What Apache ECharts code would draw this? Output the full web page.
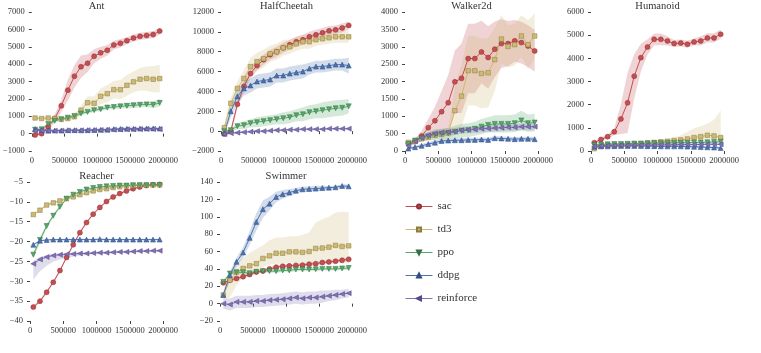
<!DOCTYPE html>
<html>
<head>
<meta charset="utf-8">
<script src="https://cdn.jsdelivr.net/npm/echarts@6/dist/echarts.min.js"></script>
<style>
  html, body { margin: 0; padding: 0; background: #fff; }
  #chart { width: 761px; height: 353px; }
</style>
</head>
<body>
<div id="chart"></div>
<script>
// training steps (x) shared by every panel
const STEPS = [50000, 150000, 250000, 350000, 450000, 550000, 650000, 750000, 850000, 950000,
  1050000, 1150000, 1250000, 1350000, 1450000, 1550000, 1650000, 1750000, 1850000, 1950000]
const X_TICKS = [0, 500000, 1000000, 1500000, 2000000]
const ALGOS = ['sac', 'td3', 'ppo', 'ddpg', 'reinforce']
const ENVS = ['Ant', 'HalfCheetah', 'Walker2d', 'Humanoid', 'Reacher', 'Swimmer']

// mean returns per algorithm
const antMean = {
  sac: [-80, 0, 400, 870, 1600, 2500, 3300, 3850, 4050, 4450, 4650, 4800, 5100, 5200, 5350, 5500, 5600, 5650, 5700, 5900],
  td3: [900, 870, 900, 870, 820, 870, 970, 1350, 1780, 1750, 2150, 2300, 2530, 2530, 2780, 2980, 3130, 3170, 3130, 3170],
  ppo: [230, 250, 550, 740, 830, 920, 1020, 1160, 1250, 1350, 1400, 1500, 1530, 1570, 1600, 1630, 1660, 1680, 1660, 1770],
  ddpg: [250, 200, 170, 180, 180, 200, 200, 190, 200, 210, 220, 230, 260, 270, 280, 280, 290, 300, 300, 290],
  reinforce: [150, 180, 170, 160, 170, 180, 180, 190, 200, 200, 210, 220, 230, 240, 250, 250, 260, 270, 270, 260]
}
const cheetahMean = {
  sac: [-300, 0, 2700, 4500, 5800, 6600, 7200, 7700, 8000, 8400, 8700, 9000, 9200, 9500, 9700, 9900, 10100, 10200, 10400, 10650],
  td3: [350, 2800, 4300, 5300, 6500, 7000, 7300, 7800, 8000, 8400, 8500, 8800, 9000, 9000, 9200, 9300, 9400, 9500, 9500, 9500],
  ppo: [0, 100, 500, 600, 800, 900, 1000, 1100, 1200, 1300, 1400, 1600, 1700, 1900, 2000, 2100, 2200, 2300, 2350, 2500],
  ddpg: [-200, 2000, 3500, 4300, 4600, 5000, 5100, 5200, 5600, 5600, 5800, 5900, 6000, 6300, 6500, 6500, 6600, 6700, 6700, 6600],
  reinforce: [-300, -200, -150, -100, -50, 0, 0, 50, 100, 100, 150, 150, 200, 200, 200, 200, 250, 250, 250, 250]
}
const walkerMean = {
  sac: [220, 270, 430, 670, 870, 1130, 1390, 1990, 2090, 2660, 2660, 2850, 2690, 2930, 3090, 3090, 3170, 3120, 3020, 2880],
  td3: [250, 280, 350, 400, 450, 480, 520, 1160, 1580, 2310, 2310, 2230, 2250, 2630, 3220, 3010, 3060, 3310, 3060, 3310],
  ppo: [200, 300, 370, 420, 470, 490, 510, 550, 580, 600, 640, 700, 750, 780, 780, 780, 800, 880, 800, 820],
  ddpg: [70, 110, 150, 200, 240, 290, 300, 310, 310, 320, 320, 330, 320, 370, 360, 350, 340, 350, 350, 340],
  reinforce: [150, 280, 380, 450, 500, 530, 550, 560, 600, 610, 620, 640, 650, 660, 670, 680, 680, 700, 700, 700]
}
const humanoidMean = {
  sac: [360, 500, 620, 830, 1380, 2080, 3230, 4030, 4490, 4820, 4820, 4750, 4640, 4660, 4610, 4710, 4750, 4880, 4880, 5040],
  td3: [100, 200, 250, 250, 260, 280, 300, 320, 350, 370, 400, 420, 450, 480, 520, 580, 620, 680, 650, 580],
  ppo: [250, 280, 290, 300, 300, 310, 320, 320, 330, 340, 340, 350, 350, 360, 360, 370, 370, 380, 390, 400],
  ddpg: [180, 200, 200, 210, 220, 220, 220, 220, 210, 210, 200, 200, 200, 200, 190, 180, 170, 160, 150, 130],
  reinforce: [200, 230, 240, 250, 250, 250, 260, 260, 260, 260, 270, 270, 270, 280, 280, 280, 280, 290, 290, 290]
}
const reacherMean = {
  sac: [-36.5, -35, -32.75, -30.25, -27.3, -24, -20.8, -17.75, -15.2, -13.1, -11.4, -9.9, -8.75, -7.9, -7.25, -6.7, -6.25, -5.9, -5.7, -5.6],
  td3: [-13.2, -12.1, -10.8, -10.25, -9.75, -9.2, -8.75, -8.2, -7.7, -7.25, -6.9, -6.7, -6.4, -6.2, -6, -5.9, -5.8, -5.8, -5.75, -5.75],
  ppo: [-23.3, -19.6, -16.1, -13.5, -11.25, -9.2, -8.2, -7.5, -6.9, -6.5, -6.25, -6.1, -6, -5.9, -5.9, -5.8, -5.8, -5.8, -5.8, -5.8],
  ddpg: [-20.8, -19.8, -19.6, -19.5, -19.5, -19.5, -19.5, -19.5, -19.5, -19.5, -19.4, -19.5, -19.5, -19.5, -19.5, -19.5, -19.5, -19.5, -19.5, -19.5],
  reinforce: [-25.6, -24.5, -23.9, -23.5, -23.3, -23.2, -23.1, -23, -23, -22.9, -22.8, -22.8, -22.7, -22.6, -22.6, -22.5, -22.4, -22.4, -22.3, -22.3]
}
const swimmerMean = {
  sac: [24, 27, 29, 31, 33.5, 36.5, 37.5, 40, 42, 43, 43.5, 44, 44.3, 45.4, 46, 47.3, 48, 48.8, 50, 51],
  td3: [10, 27, 36, 40.5, 43.5, 46, 52, 55, 58, 58, 59.6, 59.6, 59, 60, 63.5, 64, 65, 67, 65.8, 66.5],
  ppo: [25, 34.6, 36, 36, 35, 36.6, 37.4, 37.4, 37.4, 38.2, 38.2, 39.3, 39.3, 39.3, 39.5, 40, 40, 40, 40.5, 41],
  ddpg: [9.9, 32.8, 48.1, 58.9, 75.7, 94.1, 108.6, 115.1, 122.8, 125.9, 127.8, 130, 131.6, 132, 132.4, 133, 133.5, 133.9, 135.4, 135],
  reinforce: [0, -1, 2, 2, 2, 3, 3, 4, 4.5, 5, 6, 7, 6, 7, 7, 8, 9, 10, 11, 12]
}

// shaded spread: one array = symmetric, two arrays = [below, above]
const antBand = {
  sac: [80, 80, 150, 250, 350, 600, 650, 650, 500, 400, 350, 300, 250, 250, 200, 200, 200, 200, 200, 200],
  td3: [50, 50, 50, 50, 80, 100, 150, 250, 350, 400, 450, 500, 500, 550, 600, 600, 650, 700, 750, 800],
  ppo: [50, 50, 80, 80, 80, 80, 80, 100, 100, 100, 100, 120, 120, 120, 150, 150, 150, 150, 200, 200],
  ddpg: [80, 80, 80, 80, 80, 80, 80, 80, 80, 80, 80, 80, 80, 80, 80, 80, 80, 80, 80, 80],
  reinforce: [50, 50, 50, 50, 50, 50, 50, 50, 50, 50, 50, 50, 50, 50, 50, 50, 50, 50, 50, 50]
}
const cheetahBand = {
  sac: [200, 300, 400, 500, 500, 500, 500, 500, 500, 500, 500, 500, 500, 500, 500, 500, 500, 450, 450, 400],
  td3: [300, 600, 700, 800, 900, 900, 900, 800, 800, 800, 700, 700, 700, 700, 600, 600, 600, 600, 600, 600],
  ppo: [100, 200, 300, 400, 400, 500, 500, 500, 500, 600, 600, 600, 700, 700, 700, 800, 800, 800, 800, 700],
  ddpg: [300, 600, 700, 700, 700, 700, 700, 700, 700, 700, 700, 700, 700, 600, 600, 600, 600, 600, 600, 800],
  reinforce: [100, 100, 100, 100, 100, 100, 100, 100, 100, 100, 100, 100, 100, 100, 100, 100, 100, 100, 100, 100]
}
const walkerBand = {
  sac: [50, 80, 150, 250, 400, 600, 800, 900, 1000, 1000, 1000, 900, 900, 800, 700, 650, 600, 600, 600, 600],
  td3: [50, 50, 80, 100, 100, 120, 150, 700, 900, 1000, 1000, 1000, 1000, 900, 700, 600, 600, 600, 700, 650],
  ppo: [50, 80, 100, 120, 150, 150, 150, 180, 200, 200, 200, 220, 220, 250, 250, 250, 250, 280, 250, 250],
  ddpg: [30, 40, 50, 60, 60, 60, 60, 60, 60, 60, 60, 60, 60, 60, 60, 60, 60, 60, 60, 60],
  reinforce: [50, 60, 80, 100, 100, 100, 100, 100, 100, 100, 100, 100, 100, 100, 100, 100, 100, 100, 100, 100]
}
const humanoidBand = {
  sac: [50, 60, 100, 150, 650, 1300, 950, 600, 330, 250, 250, 200, 150, 150, 150, 150, 200, 200, 200, 200],
  td3: [
    [30, 40, 50, 50, 50, 50, 50, 60, 60, 60, 70, 80, 80, 90, 100, 120, 150, 150, 150, 150],
    [30, 40, 50, 50, 50, 50, 50, 60, 60, 70, 90, 120, 150, 200, 300, 400, 450, 500, 700, 1170]
  ],
  ppo: [50, 50, 50, 50, 50, 50, 50, 50, 50, 50, 50, 50, 50, 50, 50, 50, 50, 50, 50, 50],
  ddpg: [50, 50, 50, 50, 50, 50, 50, 50, 50, 50, 50, 50, 50, 50, 50, 50, 50, 50, 50, 50],
  reinforce: [40, 40, 40, 40, 40, 40, 40, 40, 40, 40, 40, 40, 40, 40, 40, 40, 40, 40, 40, 40]
}
const reacherBand = {
  sac: [0.4, 0.4, 0.4, 0.4, 0.4, 0.4, 0.4, 0.4, 0.4, 0.3, 0.3, 0.3, 0.3, 0.3, 0.3, 0.3, 0.3, 0.3, 0.3, 0.3],
  td3: [0.3, 0.3, 0.3, 0.3, 0.3, 0.3, 0.3, 0.3, 0.3, 0.3, 0.3, 0.3, 0.3, 0.3, 0.3, 0.3, 0.3, 0.3, 0.3, 0.3],
  ppo: [0.8, 0.8, 0.6, 0.5, 0.4, 0.3, 0.3, 0.3, 0.3, 0.3, 0.3, 0.3, 0.3, 0.3, 0.3, 0.3, 0.3, 0.3, 0.3, 0.3],
  ddpg: [0.2, 0.2, 0.2, 0.2, 0.2, 0.2, 0.2, 0.2, 0.2, 0.2, 0.2, 0.2, 0.2, 0.2, 0.2, 0.2, 0.2, 0.2, 0.2, 0.2],
  reinforce: [
    [4, 3, 2.2, 1.6, 1.2, 0.9, 0.7, 0.5, 0.4, 0.3, 0.3, 0.3, 0.3, 0.3, 0.3, 0.3, 0.3, 0.3, 0.3, 0.3],
    [0.8, 0.6, 0.5, 0.4, 0.3, 0.3, 0.3, 0.3, 0.3, 0.3, 0.3, 0.3, 0.3, 0.3, 0.3, 0.3, 0.3, 0.3, 0.3, 0.3]
  ]
}
const swimmerBand = {
  sac: [2, 2, 2, 2, 2, 2, 2, 2, 2, 2, 2, 2, 2, 2, 2, 2, 2, 2, 2, 2],
  td3: [
    [5, 20, 15, 10, 8, 8, 10, 10, 12, 12, 12, 14, 14, 15, 15, 16, 18, 18, 20, 20],
    [5, 10, 10, 12, 15, 17, 15, 18, 18, 18, 18, 18, 20, 22, 30, 33, 35, 38, 40, 39]
  ],
  ppo: [2, 2, 2, 2, 2, 2, 2, 2, 2, 2, 2, 2, 2, 2, 2, 2, 2, 2, 2, 2],
  ddpg: [3, 4, 5, 6, 8, 10, 10, 8, 6, 5, 4, 3, 3, 3, 3, 3, 2, 2, 2, 2],
  reinforce: [6, 7, 7, 7, 7, 7, 7, 7, 7, 7, 7, 7, 7, 7, 7, 7, 6, 6, 5, 5]
}

const MEANS = [antMean, cheetahMean, walkerMean, humanoidMean, reacherMean, swimmerMean]
const BANDS = [antBand, cheetahBand, walkerBand, humanoidBand, reacherBand, swimmerBand]
// y axis [min, max, step]
const Y_RANGES = [[-1000, 7000, 1000], [-2000, 12000, 2000], [0, 4000, 500],
  [0, 6000, 1000], [-40, -5, 5], [-20, 140, 20]]

// seaborn deep palette
const COLORS = { sac: '#C44E52', td3: '#CCB974', ppo: '#55A868', ddpg: '#4C72B0', reinforce: '#8172B2' }
const EDGES = { sac: '#8f3034', td3: '#8c7d3f', ppo: '#356e44', ddpg: '#2f4d80', reinforce: '#54478a' }
const SYMBOLS = {
  sac: ['circle', 0], td3: ['rect', 0], ppo: ['triangle', 180], ddpg: ['triangle', 0], reinforce: ['triangle', 90]
}
const GRIDS = [
  { left: 30, top: 12, width: 133, height: 139 },
  { left: 221, top: 12, width: 131, height: 139 },
  { left: 405, top: 12, width: 133, height: 139 },
  { left: 591, top: 12, width: 133, height: 139 },
  { left: 30, top: 182, width: 133, height: 139 },
  { left: 220, top: 182, width: 132, height: 139 }
]
const FONT = 'Liberation Serif'
const TEXT = '#333'

const chart = echarts.init(document.getElementById('chart'))

const minus = v => String(v).replace('-', '\u2212')

function bandSeries(k, lo, hi, color) {
  return {
    type: 'custom',
    xAxisIndex: k,
    yAxisIndex: k,
    silent: true,
    clip: true,
    z: 1,
    data: STEPS.map((s, i) => [s, lo[i], hi[i]]),
    encode: { x: 0, y: [1, 2] },
    renderItem: (params, api) => {
      if (params.dataIndex !== 0) return null
      const top = STEPS.map((s, i) => api.coord([s, hi[i]]))
      const bot = STEPS.map((s, i) => api.coord([s, lo[i]])).reverse()
      return {
        type: 'polygon',
        shape: { points: top.concat(bot) },
        style: { fill: color, opacity: 0.25 }
      }
    }
  }
}

const titles = []
const xAxes = []
const yAxes = []
const series = []

ENVS.forEach((env, k) => {
  const g = GRIDS[k]
  titles.push({
    text: env,
    left: g.left + g.width / 2,
    top: g.top - 11,
    padding: 0,
    textAlign: 'center',
    textStyle: { fontFamily: FONT, fontSize: 10.5, fontWeight: 'normal', color: TEXT }
  })
  xAxes.push({
    type: 'value',
    gridIndex: k,
    min: X_TICKS[0],
    max: X_TICKS[X_TICKS.length - 1],
    interval: 500000,
    axisLine: { show: false },
    axisTick: { show: true, length: 3, lineStyle: { color: '#444' } },
    splitLine: { show: false },
    axisLabel: { fontFamily: FONT, fontSize: 8.5, color: TEXT, margin: 5, formatter: v => String(v) }
  })
  const [ymin, ymax, step] = Y_RANGES[k]
  yAxes.push({
    type: 'value',
    gridIndex: k,
    min: ymin,
    max: ymax,
    interval: step,
    axisLine: { show: false },
    axisTick: { show: true, length: 3, lineStyle: { color: '#444' } },
    splitLine: { show: false },
    axisLabel: { fontFamily: FONT, fontSize: 8.5, color: TEXT, margin: 7, formatter: minus }
  })

  ALGOS.forEach(a => {
    const mean = MEANS[k][a]
    const b = BANDS[k][a]
    const below = Array.isArray(b[0]) ? b[0] : b
    const above = Array.isArray(b[0]) ? b[1] : b
    const lo = mean.map((m, i) => m - below[i])
    const hi = mean.map((m, i) => m + above[i])
    series.push(bandSeries(k, lo, hi, COLORS[a]))
  })
  ALGOS.forEach(a => {
    series.push({
      name: a,
      type: 'line',
      xAxisIndex: k,
      yAxisIndex: k,
      z: 3,
      data: STEPS.map((s, i) => [s, MEANS[k][a][i]]),
      symbol: SYMBOLS[a][0],
      symbolRotate: SYMBOLS[a][1],
      symbolSize: a === 'td3' ? 4.5 : 5,
      showAllSymbol: true,
      lineStyle: { width: 1, color: COLORS[a] },
      itemStyle: { color: COLORS[a], borderColor: EDGES[a], borderWidth: 0.5 },
      emphasis: { disabled: true }
    })
  })
})

const option = {
  animation: false,
  backgroundColor: '#fff',
  title: titles,
  grid: GRIDS,
  xAxis: xAxes,
  yAxis: yAxes,
  legend: {
    data: ALGOS,
    orient: 'vertical',
    left: 405,
    top: 201,
    padding: 0,
    itemWidth: 27,
    itemHeight: 5,
    itemGap: 12,
    lineStyle: { width: 1 },
    textStyle: { fontFamily: FONT, fontSize: 11, color: TEXT },
    selectedMode: false
  },
  series: series
}

chart.setOption(option)
</script>
</body>
</html>
